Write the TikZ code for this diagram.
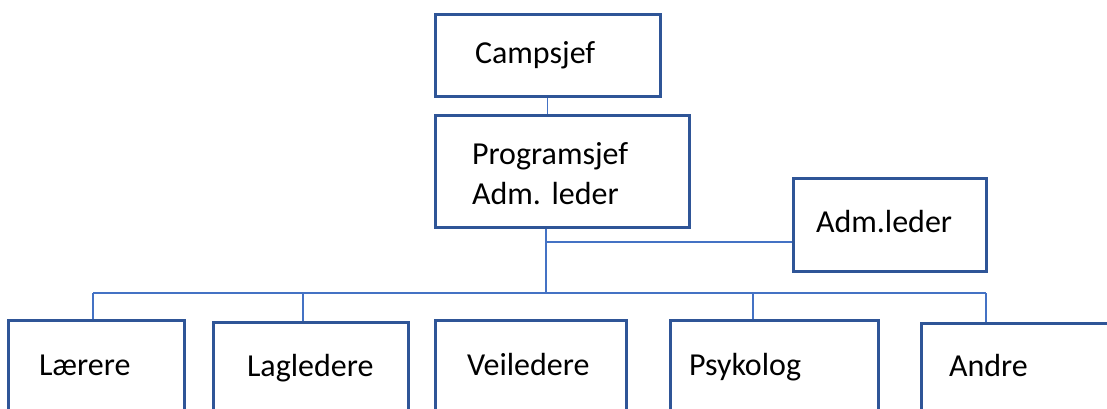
\documentclass[tikz,border=0pt]{standalone}
\usepackage{fontspec}
\setmainfont{Carlito}
\usetikzlibrary{calc}
\definecolor{boxblue}{HTML}{2F5597}
\definecolor{linkblue}{HTML}{4472C4}
\newcommand{\unitfont}{\fontsize{32}{40}\selectfont\hyphenpenalty=10000\relax}

\begin{document}
\begin{tikzpicture}[x=1pt,y=-1pt,
  unit/.style={rectangle,draw=boxblue,line width=3pt,align=left,inner ysep=0pt,font=\unitfont,
    execute at begin node=\strut},
  link/.style={draw=linkblue,line width=1.3pt}]

  \useasboundingbox (0,0) rectangle (1107,408);
  \clip (0,0) rectangle (1107,408);

  \node[unit,minimum height=82pt,inner xsep=40pt,text width=145pt] (camp) at (547.5,55) {Campsjef};
  \node[unit,minimum height=112pt,inner xsep=37pt,text width=180pt] (prog) at (562,171) {Programsjef\\Adm.\ leder};
  \node[unit,minimum height=93pt,inner xsep=23pt,text width=147pt] (adm) at (889.5,224.5) {Adm.leder};

  \node[unit,minimum height=94pt,inner xsep=31pt,text width=114pt] (laer) at (96,367) {Lærere};
  \node[unit,minimum height=92pt,inner xsep=34pt,text width=127pt] (lag) at (310.5,368) {Lagledere};
  \node[unit,minimum height=94pt,inner xsep=32pt,text width=127pt] (veil) at (530.5,367) {Veiledere};
  \node[unit,minimum height=94pt,inner xsep=19pt,text width=170pt] (psyk) at (774,367) {Psykolog};
  \node[unit,minimum height=91pt,inner xsep=28pt,text width=164pt] (andre) at (1031,368.5) {Andre};

  \coordinate (bus) at (546,293);
  \coordinate (side) at (546,242);

  \draw[link] (camp.south) -- (camp.south |- prog.north);
  \draw[link] (prog.south -| bus) -- (bus);
  \draw[link] (side) -- (side -| adm.west);
  \draw[link] ([xshift=-3pt]laer.north |- bus) -- ([xshift=-45pt]andre.north |- bus);
  \foreach \n/\dx in {laer/-3,lag/-7.5,psyk/-21,andre/-45}
    \draw[link] ([xshift=\dx pt]\n.north) -- ([xshift=\dx pt]\n.north |- bus);
\end{tikzpicture}
\end{document}
